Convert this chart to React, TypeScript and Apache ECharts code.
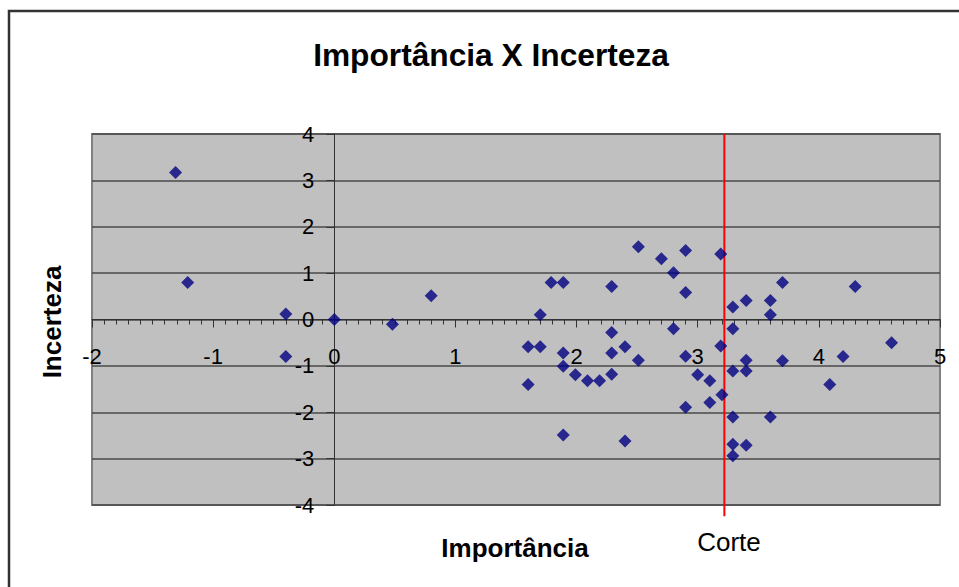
import React, { useEffect, useRef } from "react";
import * as echarts from "echarts";

const importancia = [
  -1.31, -1.21, -0.4, -0.4, 0, 0.48, 0.8,
  1.6, 1.6, 1.7, 1.7, 1.79, 1.89, 1.89, 1.89, 1.89, 1.99, 2.09, 2.19,
  2.29, 2.29, 2.29, 2.29, 2.4, 2.4, 2.51, 2.51, 2.7, 2.8, 2.8,
  2.9, 2.9, 2.9, 2.9, 3.0, 3.1, 3.1, 3.19, 3.19, 3.2,
  3.29, 3.29, 3.29, 3.29, 3.29, 3.29, 3.4, 3.4, 3.4, 3.4,
  3.6, 3.6, 3.6, 3.7, 3.7, 4.09, 4.2, 4.3, 4.6,
];
const incerteza = [
  3.17, 0.8, 0.12, -0.8, 0, -0.1, 0.51,
  -0.59, -1.4, -0.59, 0.1, 0.8, 0.8, -0.72, -1.01, -2.49, -1.19, -1.32, -1.32,
  0.71, -0.28, -0.72, -1.18, -0.59, -2.62, 1.57, -0.88, 1.31, 1.01, -0.2,
  1.49, 0.58, -0.79, -1.89, -1.19, -1.32, -1.79, 1.41, -0.57, -1.62,
  0.27, -0.2, -1.11, -2.1, -2.69, -2.94, 0.41, -0.88, -1.11, -2.71,
  0.41, 0.1, -2.1, 0.8, -0.89, -1.4, -0.8, 0.71, -0.5,
];
const corte = 3.22;
const corteEnd = [4, -4.24];
const xRange = [-2, 5];
const yRange = [-4, 4];
const titleText = "Importância X Incerteza";
const xName = "Importância";
const yName = "Incerteza";
const corteLabel = "Corte";

const FONT = "'Liberation Sans', Arial, sans-serif";

const GRID = { left: 92, right: 19, top: 134, bottom: 82 };
const W = 959;
const H = 587;

export default function App() {
  const ref = useRef<HTMLDivElement>(null);
  useEffect(() => {
    if (!ref.current) return;
    const chart = echarts.init(ref.current, null, { renderer: "svg" });
    const points = importancia.map((x, i) => [x, incerteza[i]]);
    const gw = W - GRID.left - GRID.right;
    const gh = H - GRID.top - GRID.bottom;
    // shift axes so that they cross at the origin (values 0,0)
    const xOffset = -gh * ((0 - yRange[0]) / (yRange[1] - yRange[0]));
    const yOffset = -gw * ((0 - xRange[0]) / (xRange[1] - xRange[0]));
    chart.setOption({
      animation: false,
      grid: {
        ...GRID,
        show: true,
        backgroundColor: "#c0c0c0",
        borderColor: "#808080",
        borderWidth: 2,
      },
      xAxis: {
        type: "value",
        min: xRange[0],
        max: xRange[1],
        interval: 1,
        offset: xOffset,
        axisLine: { onZero: false, lineStyle: { color: "#333", width: 1 } },
        axisTick: { show: true, length: 8, lineStyle: { color: "#333" } },
        minorTick: { show: true, splitNumber: 10, length: 5, lineStyle: { color: "#333" } },
        splitLine: { show: false },
        axisLabel: {
          margin: 26,
          fontSize: 22,
          color: "#000",
          fontFamily: FONT,
        },
      },
      yAxis: {
        type: "value",
        min: yRange[0],
        max: yRange[1],
        interval: 1,
        offset: yOffset,
        axisLine: { onZero: false, lineStyle: { color: "#333", width: 1 } },
        axisTick: { show: true, length: 8, lineStyle: { color: "#333" } },
        splitLine: { show: true, lineStyle: { color: "#4a4a4a", width: 1.5 } },
        axisLabel: {
          margin: 20,
          fontSize: 22,
          color: "#000",
          fontFamily: FONT,
        },
      },
      series: [
        {
          type: "scatter",
          data: points,
          symbol: "diamond",
          symbolSize: 13,
          itemStyle: { color: "#000080" },
          z: 3,
        },
        {
          type: "line",
          data: [
            [corte, corteEnd[0]],
            [corte, corteEnd[1]],
          ],
          symbol: "none",
          clip: false,
          lineStyle: { color: "#ff0000", width: 2 },
          z: 2,
        },
      ],
      graphic: [
        {
          type: "polyline",
          shape: { points: [[9, 600], [9, 11], [970, 11]] },
          style: { stroke: "#333", lineWidth: 2.5, fill: null },
        },
        {
          type: "text",
          x: 491,
          y: 55,
          style: {
            text: titleText,
            font: `bold 31.7px ${FONT}`,
            fill: "#000",
            textAlign: "center",
            textVerticalAlign: "middle",
          },
        },
        {
          type: "text",
          x: 515,
          y: 548,
          style: {
            text: xName,
            font: `bold 26px ${FONT}`,
            fill: "#000",
            textAlign: "center",
            textVerticalAlign: "middle",
          },
        },
        {
          type: "text",
          x: 52,
          y: 322,
          rotation: Math.PI / 2,
          style: {
            text: yName,
            font: `bold 26px ${FONT}`,
            fill: "#000",
            textAlign: "center",
            textVerticalAlign: "middle",
          },
        },
        {
          type: "text",
          x: 729,
          y: 542,
          style: {
            text: corteLabel,
            font: `26px ${FONT}`,
            fill: "#000",
            textAlign: "center",
            textVerticalAlign: "middle",
          },
        },
      ],
    });
    return () => chart.dispose();
  }, []);
  return (
    <div
      ref={ref}
      style={{ position: "fixed", left: 0, top: 0, width: W, height: H, background: "#fff" }}
    />
  );
}
